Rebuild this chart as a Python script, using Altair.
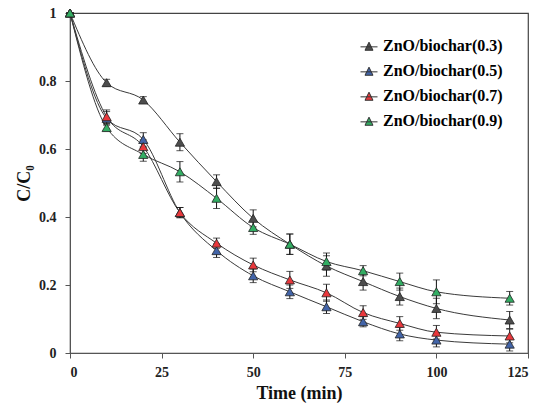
import altair as alt
import pandas as pd

# Sampling times (min)
times = [0, 10, 20, 30, 40, 50, 60, 70, 80, 90, 100, 120]

series_names = [
    "ZnO/biochar(0.3)",
    "ZnO/biochar(0.5)",
    "ZnO/biochar(0.7)",
    "ZnO/biochar(0.9)",
]

# C/C0 values per catalyst ratio
c_03 = [1.0, 0.795, 0.744, 0.62, 0.504, 0.396, 0.32, 0.256, 0.21, 0.166, 0.131, 0.097]
c_05 = [1.0, 0.69, 0.628, 0.413, 0.301, 0.227, 0.18, 0.136, 0.092, 0.056, 0.038, 0.026]
c_07 = [1.0, 0.695, 0.607, 0.413, 0.323, 0.259, 0.215, 0.177, 0.119, 0.087, 0.061, 0.05]
c_09 = [1.0, 0.663, 0.584, 0.533, 0.455, 0.369, 0.32, 0.269, 0.242, 0.21, 0.18, 0.161]

# Standard deviations (error bars)
e_03 = [0.0, 0.01, 0.01, 0.025, 0.02, 0.025, 0.03, 0.03, 0.025, 0.025, 0.03, 0.025]
e_05 = [0.0, 0.02, 0.02, 0.015, 0.02, 0.02, 0.02, 0.02, 0.015, 0.02, 0.02, 0.02]
e_07 = [0.0, 0.02, 0.02, 0.015, 0.015, 0.02, 0.025, 0.025, 0.02, 0.02, 0.02, 0.02]
e_09 = [0.0, 0.01, 0.02, 0.03, 0.03, 0.02, 0.03, 0.025, 0.015, 0.025, 0.035, 0.02]

fill_colors = ["#4d4d4d", "#4264a8", "#e8383c", "#33ad63"]

rows = []
for name, vals, errs in zip(series_names, [c_03, c_05, c_07, c_09], [e_03, e_05, e_07, e_09]):
    for t, v, e in zip(times, vals, errs):
        rows.append({"time": t, "c": v, "lo": v - e, "hi": v + e, "series": name})
df = pd.DataFrame(rows)

FONT = "Liberation Serif"

x_enc = alt.X(
    "time:Q",
    scale=alt.Scale(domain=[0, 125], nice=False),
    axis=alt.Axis(
        values=[0, 25, 50, 75, 100, 125],
        title="Time (min)",
        grid=False,
        tickSize=5,
        labelPadding=7,
        titlePadding=5,
    ),
)
y_enc = alt.Y(
    "c:Q",
    scale=alt.Scale(domain=[0, 1], nice=False),
    axis=alt.Axis(
        values=[0, 0.2, 0.4, 0.6, 0.8, 1],
        format="~g",
        title="C/C₀",
        grid=False,
        tickSize=5,
        labelPadding=9,
        titlePadding=5,
    ),
)

base = alt.Chart(df)

lines = base.mark_line(interpolate="monotone", color="#3a3a3a", strokeWidth=1).encode(
    x=x_enc, y=y_enc, detail="series:N"
)

bars = base.mark_rule(color="#111", strokeWidth=1).encode(x="time:Q", y="lo:Q", y2="hi:Q")
caps_lo = base.mark_tick(color="#111", size=7, thickness=1, orient="horizontal").encode(x="time:Q", y="lo:Q")
caps_hi = base.mark_tick(color="#111", size=7, thickness=1, orient="horizontal").encode(x="time:Q", y="hi:Q")

legend_symbol = "M-1,0.1H1M-0.47,0.5L0,-0.45L0.47,0.5Z"

points = base.mark_point(
    shape="triangle-up", filled=True, size=85, stroke="#222", strokeWidth=0.8, opacity=1
).encode(
    x="time:Q",
    y="c:Q",
    fill=alt.Fill(
        "series:N",
        scale=alt.Scale(domain=series_names, range=fill_colors),
        legend=alt.Legend(
            title=None,
            orient="none",
            legendX=290,
            legendY=24,
            padding=0,
            symbolType=legend_symbol,
            symbolSize=289,
            symbolStrokeColor="#333",
            symbolStrokeWidth=1,
            labelFont=FONT,
            labelFontSize=16,
            labelFontWeight="bold",
            labelColor="#000",
            labelOffset=5,
            rowPadding=8,
        ),
    ),
)

chart = (
    alt.layer(lines, bars, caps_lo, caps_hi, points)
    .properties(
        width=458,
        height=340,
        autosize=alt.AutoSizeParams(type="none"),
        padding={"left": 70, "top": 13, "right": 15, "bottom": 54},
    )
    .configure_view(stroke="#444", strokeWidth=1.2, fill="white")
    .configure_axis(
        domainColor="#555",
        tickColor="#555",
        labelFont=FONT,
        labelFontSize=14,
        labelFontWeight="bold",
        labelColor="#222",
        titleFont=FONT,
        titleFontSize=18,
        titleFontWeight="bold",
        titleColor="#111",
    )
)

chart.save("out.html", embed_options={"renderer": "svg", "actions": False})
